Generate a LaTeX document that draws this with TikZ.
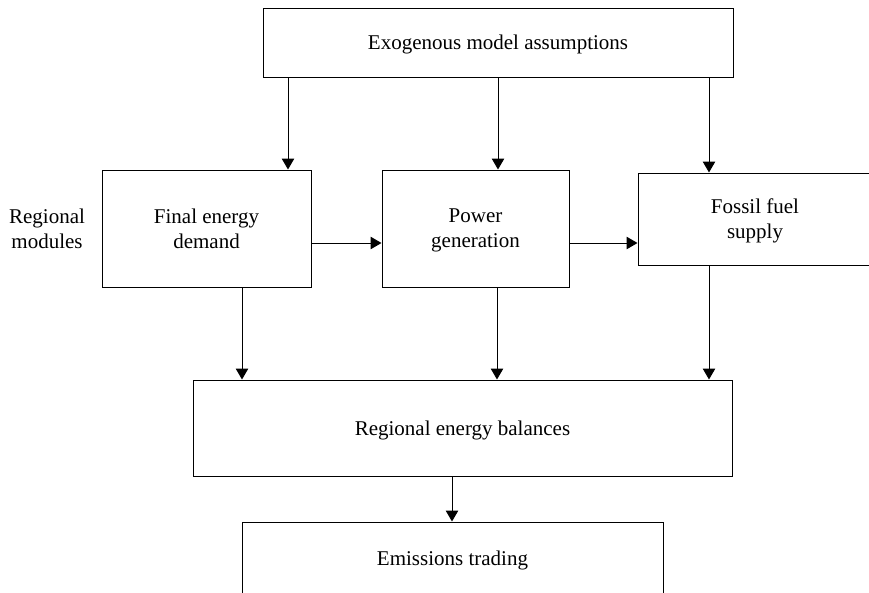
\documentclass[tikz,border=0pt]{standalone}
\usepackage{fontspec}
\setmainfont{Liberation Serif}
\usetikzlibrary{arrows.meta}
\begin{document}
\begin{tikzpicture}[x=1pt,y=-1pt,
  box/.style={draw=black, line width=1pt, rectangle, inner sep=0pt, align=center,
    text depth=0pt, font=\fontsize{21}{25}\selectfont},
  lbl/.style={inner sep=0pt, align=center, text depth=0pt, font=\fontsize{21}{25}\selectfont},
  arr/.style={draw=black, line width=1pt, -{Triangle[width=12.5pt,length=11pt]}}]
\useasboundingbox (0,0) rectangle (869,592);
\node[box, minimum width=470pt, minimum height=69pt] (top) at (498,42.5) {Exogenous model assumptions};
\node[box, minimum width=209pt, minimum height=117pt] (fed) at (206.5,228.5) {Final energy\\demand};
\node[box, minimum width=187pt, minimum height=117pt] (pow) at (475.5,228.5) {Power\\generation};
\node[box, minimum width=234pt, minimum height=92pt] (fos) at (755,219) {Fossil fuel\\supply};
\node[box, minimum width=539pt, minimum height=96pt] (bal) at (462.5,428) {Regional energy balances};
\node[box, minimum width=421pt, minimum height=72pt] (emi) at (452.5,558) {Emissions trading};
\node[lbl] (reg) at (47,229) {Regional\\modules};
% arrows from top box
\draw[arr] (top.south -| 288,0) -- (fed.north -| 288,0);
\draw[arr] (top.south -| 498,0) -- (pow.north -| 498,0);
\draw[arr] (top.south -| 709,0) -- (fos.north -| 709,0);
% horizontal arrows
\draw[arr] (fed.east |- 0,243) -- (pow.west |- 0,243);
\draw[arr] (pow.east |- 0,243) -- (fos.west |- 0,243);
% arrows to balances
\draw[arr] (fed.south -| 242,0) -- (bal.north -| 242,0);
\draw[arr] (pow.south -| 497,0) -- (bal.north -| 497,0);
\draw[arr] (fos.south -| 709,0) -- (bal.north -| 709,0);
% balances to emissions
\draw[arr] (bal.south -| 452,0) -- (emi.north -| 452,0);
\end{tikzpicture}
\end{document}
